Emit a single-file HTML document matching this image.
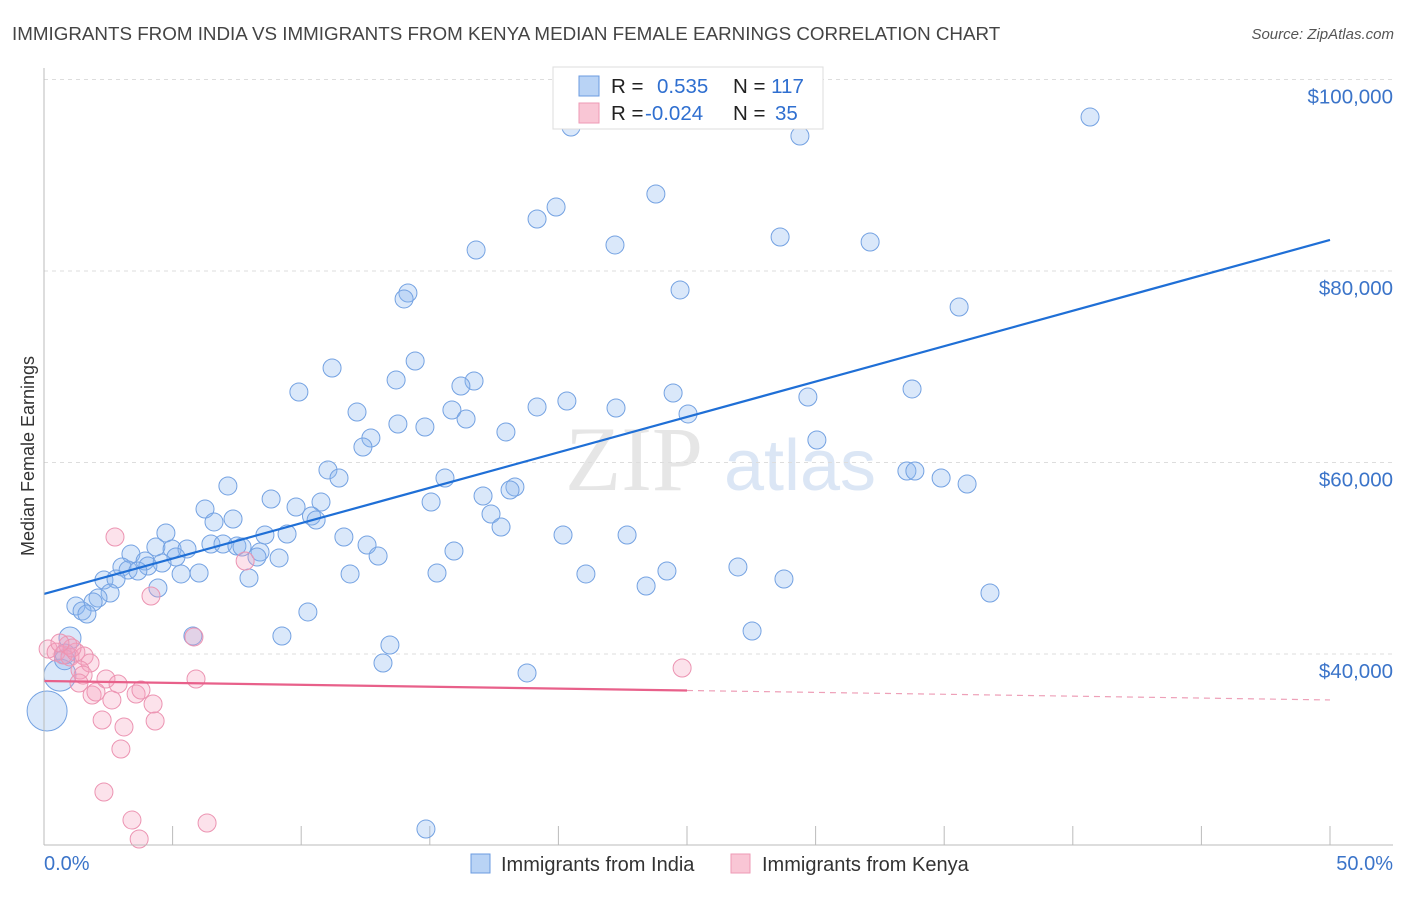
<!DOCTYPE html>
<html><head><meta charset="utf-8"><style>
body{margin:0;background:#fff;font-family:"Liberation Sans",sans-serif;}
</style></head><body>
<svg width="1406" height="892" xmlns="http://www.w3.org/2000/svg" id="chart">
<text x="12" y="40" font-size="18.8" fill="#444">IMMIGRANTS FROM INDIA VS IMMIGRANTS FROM KENYA MEDIAN FEMALE EARNINGS CORRELATION CHART</text>
<text x="1394" y="39" font-size="15" fill="#555" font-style="italic" text-anchor="end">Source: ZipAtlas.com</text>
<text x="634" y="490" font-size="92" fill="#e6e6e6" font-family="Liberation Serif" text-anchor="middle">ZIP</text>
<text x="800" y="490" font-size="72" fill="#dbe6f5" text-anchor="middle">atlas</text>
<text transform="translate(34,456) rotate(-90)" font-size="18" fill="#333" text-anchor="middle">Median Female Earnings</text>
<g id="grid"></g><g id="marks"></g>
<line x1="44" y1="68" x2="44" y2="845" stroke="#bbb"/>
<line x1="44" y1="845" x2="1393" y2="845" stroke="#bbb"/>
<text x="44" y="870" font-size="20" fill="#3b74c9">0.0%</text>
<text x="1393" y="870" font-size="20" fill="#3b74c9" text-anchor="end">50.0%</text>
<g>
<rect x="553" y="67" width="270" height="62" fill="#fff" stroke="#ddd"/>
<rect x="579" y="76" width="20" height="20" fill="#b9d3f5" stroke="#6b9be0"/>
<rect x="579" y="103" width="20" height="20" fill="#f9c6d5" stroke="#ee9ab5"/>
<text x="611" y="93" font-size="20.5" fill="#222">R = <tspan fill="#2f6fd0" x="657">0.535</tspan><tspan x="733" fill="#222">N = </tspan><tspan fill="#2f6fd0">117</tspan></text>
<text x="611" y="120" font-size="20.5" fill="#222">R = <tspan fill="#2f6fd0" x="645">-0.024</tspan><tspan x="733" fill="#222">N = </tspan><tspan fill="#2f6fd0" x="775">35</tspan></text>
</g>
<g>
<rect x="471" y="854" width="19" height="19" fill="#b9d3f5" stroke="#6b9be0"/>
<text x="501" y="871" font-size="20" fill="#333">Immigrants from India</text>
<rect x="731" y="854" width="19" height="19" fill="#f9c6d5" stroke="#ee9ab5"/>
<text x="762" y="871" font-size="20" fill="#333">Immigrants from Kenya</text>
</g>
</svg>
<script>
const yTicks=[40000,60000,80000,100000];
const yTickLabels=["$40,000","$60,000","$80,000","$100,000"];
const xTicks=[0,5,10,15,20,25,30,35,40,45,50];
const indiaX=[20.49,40.67,29.39,23.79,19.91,19.17,16.8,22.2,28.62,32.12,24.73,14.15,14.0,35.58,14.43,11.2,13.69,16.72,16.21,9.91,24.46,33.75,29.7,20.33,19.17,22.24,15.86,12.17,25.04,16.41,13.76,14.81,17.96,12.71,12.4,30.05,11.04,11.47,33.55,33.86,34.88,35.89,15.59,7.15,18.31,18.12,17.07,8.83,15.05,10.77,9.8,6.26,17.38,10.4,10.58,7.35,6.61,17.77,4.74,8.59,9.45,11.66,20.18,22.67,6.49,4.35,4.98,5.56,6.96,7.5,7.7,12.56,8.4,15.94,3.38,12.99,5.13,9.14,8.28,3.93,4.59,3.03,3.27,4.04,3.65,5.33,6.03,11.9,15.28,21.07,24.22,26.98,7.97,2.33,2.8,28.77,23.41,4.43,2.57,36.78,2.1,1.91,1.24,1.48,1.67,10.26,5.79,9.25,13.45,27.53,1.01,13.18,18.78,14.85,0.82,0.62,0.12,0.8];
const indiaY=[95.04,96.08,94.1,88.04,86.68,85.43,82.19,82.72,83.55,83.03,78.02,77.7,77.08,76.24,70.6,69.87,68.62,68.51,67.99,67.36,67.26,67.68,66.84,66.42,65.8,65.69,65.48,65.27,65.07,64.54,64.02,63.71,63.19,62.56,61.62,62.35,59.22,58.38,59.11,59.11,58.38,57.75,58.38,57.55,57.44,57.13,56.5,56.19,55.87,55.87,55.35,55.14,54.62,54.41,53.99,54.1,53.79,53.26,52.64,52.43,52.53,52.22,52.43,52.43,51.49,51.17,50.97,50.97,51.49,51.28,51.17,51.38,50.65,50.76,50.44,50.23,50.13,50.03,50.13,49.71,49.5,49.09,48.77,49.19,48.67,48.36,48.46,48.36,48.46,48.36,48.67,49.09,47.94,47.73,47.83,47.83,47.1,46.89,46.37,46.37,45.85,45.43,45.01,44.49,44.18,44.39,41.88,41.88,40.94,42.4,41.67,39.06,38.02,21.72,40.0,37.8,34.05,39.4];
const indiaR=[9,9,9,9,9,9,9,9,9,9,9,9,9,9,9,9,9,9,9,9,9,9,9,9,9,9,9,9,9,9,9,9,9,9,9,9,9,9,9,9,9,9,9,9,9,9,9,9,9,9,9,9,9,9,9,9,9,9,9,9,9,9,9,9,9,9,9,9,9,9,9,9,9,9,9,9,9,9,9,9,9,9,9,9,9,9,9,9,9,9,9,9,9,9,9,9,9,9,9,9,9,9,9,9,9,9,9,9,9,9,11,9,9,9,10,16,20,10];
const kenyaX=[2.76,4.16,5.83,7.82,0.16,0.47,0.74,1.01,1.24,1.56,1.79,1.4,1.52,1.36,2.41,2.88,1.87,2.02,2.64,3.58,3.77,4.24,5.91,24.81,2.26,3.11,4.32,2.99,2.33,3.42,3.7,6.34,0.93,1.09,0.62];
const kenyaY=[52.22,46.06,41.78,49.71,40.52,40.2,39.9,39.69,40.2,39.79,39.06,38.33,37.8,36.97,37.39,36.87,35.72,36.03,35.2,35.82,36.24,34.78,37.39,38.54,33.11,32.38,33.0,30.08,25.59,22.66,20.68,22.35,40.94,40.63,41.15];
const indiaTrend=[46.27,83.24];
const kenyaTrend=[37.18,35.2];
const NS="http://www.w3.org/2000/svg";
const X=p=>44+p*25.72;
const Y=v=>654-(v-40)*9.575;
const grid=document.getElementById('grid'),marks=document.getElementById('marks');
function mk(tag,attrs,parent){const e=document.createElementNS(NS,tag);for(const k in attrs)e.setAttribute(k,attrs[k]);parent.appendChild(e);return e;}
yTicks.forEach((t,i)=>{const y=Y(t/1000);
 const l=mk('line',{x1:44,x2:1393,y1:y,y2:y,stroke:'#ddd','stroke-dasharray':'4,4'},grid);
 
 
 const tx=mk('text',{x:1393,y:y+24,'font-size':20.5,fill:'#3b74c9','text-anchor':'end'},grid);
 tx.textContent=yTickLabels[i];
 
 });
xTicks.forEach(t=>{const x=X(t);
 const l=mk('line',{x1:x,x2:x,y1:826,y2:845,stroke:'#bbb'},grid);
 
 });
indiaX.forEach((v,i)=>{const c=mk('circle',{cx:X(v),cy:Y(indiaY[i]),r:indiaR[i],fill:'rgba(140,185,238,0.32)',stroke:'#74a2e2','stroke-width':1},marks);
 
 });
kenyaX.forEach((v,i)=>{const c=mk('circle',{cx:X(v),cy:Y(kenyaY[i]),r:9,fill:'rgba(244,160,190,0.3)',stroke:'#ec94b2','stroke-width':1},marks);
 
 });
const bl=mk('line',{x1:X(0),y1:Y(indiaTrend[0]),x2:X(50),y2:Y(indiaTrend[1]),stroke:'#1f6fd6','stroke-width':2.2},marks);


const km=(kenyaTrend[0]+kenyaTrend[1])/2;
const pl=mk('line',{x1:X(0),y1:Y(kenyaTrend[0]),x2:X(25),y2:Y(km),stroke:'#e8608a','stroke-width':2.2},marks);


const pd=mk('line',{x1:X(25),y1:Y(km),x2:X(50),y2:Y(kenyaTrend[1]),stroke:'#eea0b8','stroke-width':1.2,'stroke-dasharray':'6,5'},marks);


</script>
</body></html>
